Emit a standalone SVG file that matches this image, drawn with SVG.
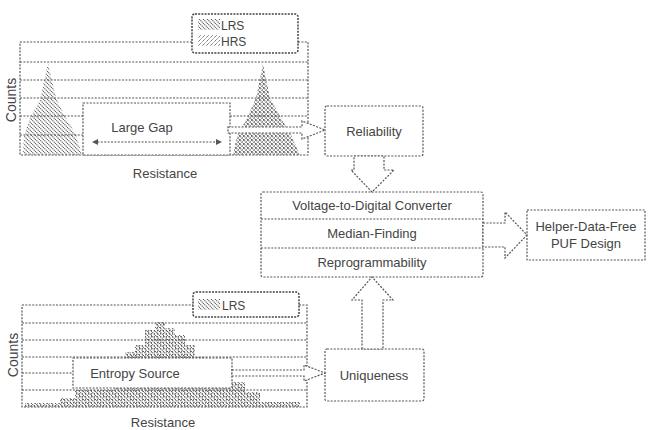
<svg xmlns="http://www.w3.org/2000/svg" width="650" height="430" viewBox="0 0 650 430">
<defs>
<style>
.d{fill:none;stroke:#555;stroke-width:1.2;stroke-dasharray:2 1.4}
.b{fill:#fff;stroke:#555;stroke-width:1.2;stroke-dasharray:2 1.4}
.lg{fill:#fff;stroke:#444;stroke-width:1.5;stroke-dasharray:2 1.2}
.t{font-family:"Liberation Sans",Arial,sans-serif;font-size:13px;fill:#444;text-anchor:middle}
.s{font-family:"Liberation Sans",Arial,sans-serif;font-size:12px;fill:#444}
</style>
<pattern id="lrs" width="4" height="4" patternUnits="userSpaceOnUse">
<path d="M-1,-1 L5,5 M-1,3 L1,5 M3,-1 L5,1" stroke="#555" stroke-width="1.1" stroke-dasharray="1.2 0.7"/>
</pattern>
<pattern id="hrs" width="4" height="4" patternUnits="userSpaceOnUse">
<path d="M-1,5 L5,-1 M-1,1 L1,-1 M3,5 L5,3" stroke="#666" stroke-width="1" stroke-dasharray="1.2 0.7"/>
</pattern>
<pattern id="dots" width="3" height="3" patternUnits="userSpaceOnUse">
<rect x="1" y="0" width="1" height="1.5" fill="#666"/>
</pattern>
</defs>

<g id="top-chart">
<path class="d" d="M20,42 H192 M298,42 H308 V155 H20 V42"/>
<path class="d" d="M20,62 H308 M20,80 H308 M20,98 H308 M20,116 H83 M230,116 H308 M20,135 H83"/>
<polygon points="23,155 24,136 30,118 40,100 48,63 56,98 66,118 76,135 82,155" fill="url(#lrs)"/>
<polygon points="233,155 237,136 247,118 256,98 263,64 270,98 281,118 291,135 300,155" fill="url(#lrs)"/>
<polygon points="233,155 237,136 247,118 256,98 263,64 270,98 281,118 291,135 300,155" fill="url(#hrs)"/>
<rect class="b" x="83" y="103" width="147" height="52"/>
<text class="t" x="142" y="132">Large Gap</text>
<path class="d" d="M94,142 H220"/>
<path d="M92,142 l6,-3 v6 z M222,142 l-6,-3 v6 z" fill="#555"/>
<rect class="lg" x="192" y="14" width="106" height="39" rx="3"/>
<rect x="198" y="19" width="22" height="11" fill="url(#lrs)"/>
<rect x="198" y="35" width="22" height="11" fill="url(#hrs)"/>
<text class="s" x="221" y="30">LRS</text>
<text class="s" x="221" y="46">HRS</text>
<text class="t" x="12" y="100" transform="rotate(-90 12 100)" dy="4" style="font-size:14px">Counts</text>
<text class="t" x="165" y="178">Resistance</text>
</g>

<g id="reliability">
<rect class="b" x="325" y="106" width="98" height="50" rx="2"/>
<text class="t" x="374" y="136">Reliability</text>
</g>

<g id="core">
<rect class="b" x="261" y="192" width="222" height="85" rx="2"/>
<path class="d" d="M261,219 H483 M261,248 H483"/>
<text class="t" x="372" y="210">Voltage-to-Digital Converter</text>
<text class="t" x="372" y="238">Median-Finding</text>
<text class="t" x="372" y="267">Reprogrammability</text>
</g>

<g id="helper">
<rect class="b" x="527" y="210" width="118" height="50"/>
<text class="t" x="586" y="231">Helper-Data-Free</text>
<text class="t" x="586" y="248">PUF Design</text>
</g>

<g id="bottom-chart">
<path class="d" d="M22,305 H193 M299,305 H307 V407 H22 V305"/>
<path class="d" d="M22,323 H307 M22,340 H307 M22,357 H307 M22,373 H73 M22,390 H307"/>
<polygon points="25,407 25,403 60,403 60,398 75,398 75,390 115,390 115,360 125,360 125,352 135,352 135,345 145,345 145,330 155,330 155,322 165,322 165,328 175,328 175,335 185,335 185,345 195,345 195,357 205,357 205,365 230,365 230,382 245,382 245,392 260,392 260,402 300,402 300,407" fill="url(#lrs)"/>
<polygon points="25,407 25,403 60,403 60,398 75,398 75,390 115,390 115,360 125,360 125,352 135,352 135,345 145,345 145,330 155,330 155,322 165,322 165,328 175,328 175,335 185,335 185,345 195,345 195,357 205,357 205,365 230,365 230,382 245,382 245,392 260,392 260,402 300,402 300,407" fill="url(#dots)"/>
<rect class="b" x="73" y="358" width="159" height="30"/>
<text class="t" x="135" y="378">Entropy Source</text>
<rect class="lg" x="193" y="292" width="106" height="25" rx="3"/>
<rect x="198" y="299" width="22" height="11" fill="url(#lrs)"/>
<text class="s" x="222" y="310">LRS</text>
<text class="t" x="14" y="355" transform="rotate(-90 14 355)" dy="4" style="font-size:14px">Counts</text>
<text class="t" x="163" y="427">Resistance</text>
</g>

<g id="uniqueness">
<rect class="b" x="325" y="349" width="99" height="52" rx="2"/>
<text class="t" x="374" y="380">Uniqueness</text>
</g>

<g id="connectors">
<polygon class="b" points="228,127 302,127 302,121 325,130 302,139 302,133 228,133"/>
<polygon class="b" points="354,156 384,156 384,170 394,170 372,192 351,170 354,170"/>
<polygon class="b" points="483,223 505,223 505,212 527,235 505,258 505,247 483,247"/>
<polygon class="b" points="362,349 362,300 352,300 372,277 393,300 383,300 383,349"/>
<polygon class="b" points="232,370 304,370 304,365 325,373 304,381 304,376 232,376"/>
</g>
</svg>
